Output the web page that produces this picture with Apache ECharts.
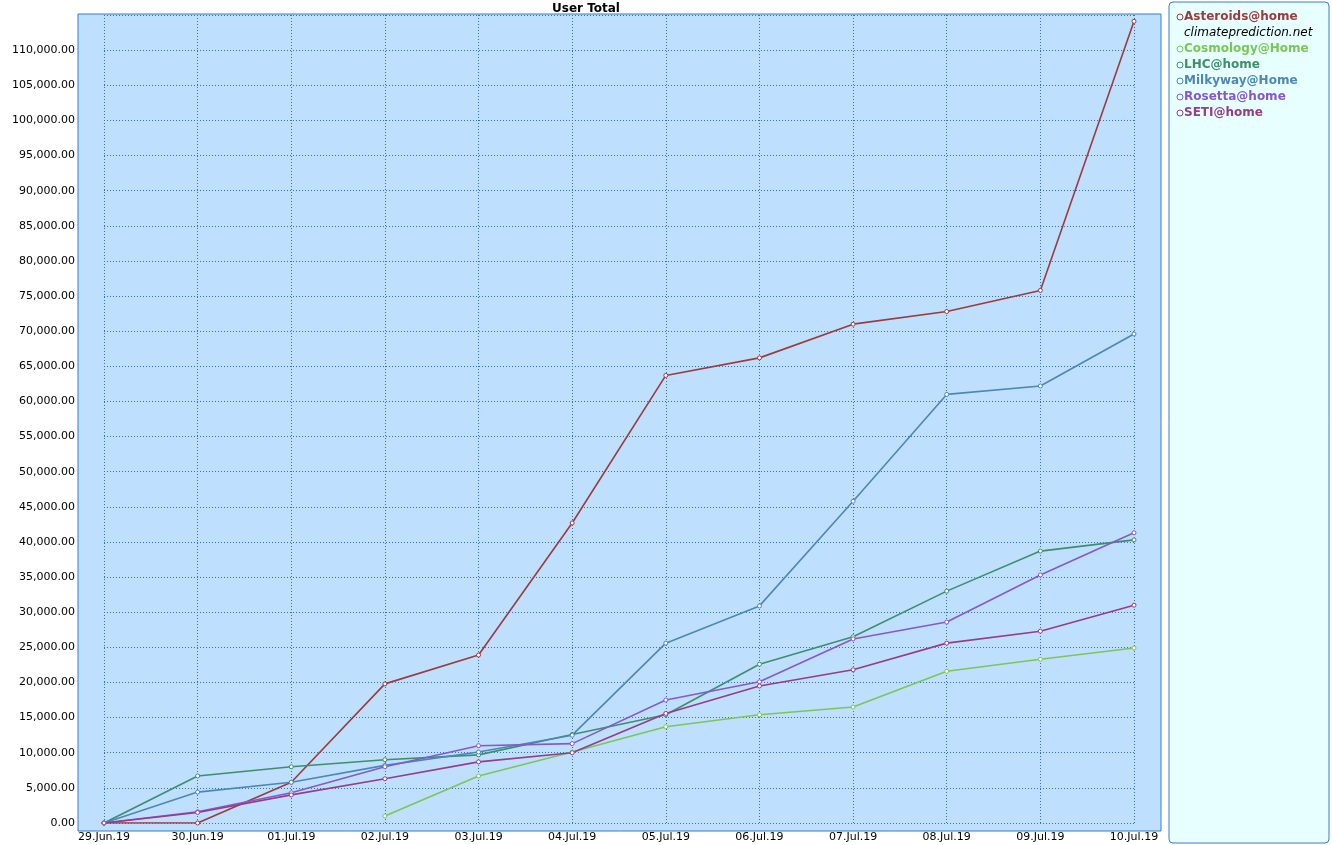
<!DOCTYPE html><html><head><meta charset="utf-8"><script src="https://cdn.jsdelivr.net/npm/echarts@6/dist/echarts.min.js"></script>
<style>html,body{margin:0;padding:0;background:#fff}#c{width:1332px;height:845px}</style></head><body><div id="c"></div><script>
const categories=['29.Jun.19','30.Jun.19','01.Jul.19','02.Jul.19','03.Jul.19','04.Jul.19','05.Jul.19','06.Jul.19','07.Jul.19','08.Jul.19','09.Jul.19','10.Jul.19'];
const asteroids=[0,0,5800,19800,23900,42700,63700,66200,71000,72800,75800,114100];
const climate=[];
const cosmology=[null,null,null,1000,6700,10100,13700,15400,16500,21600,23300,24900];
const lhc=[0,6700,8000,9000,9700,12600,15400,22600,26500,33000,38700,40300];
const milkyway=[0,4400,5800,8200,10100,12500,25600,30900,45800,61000,62200,69600];
const rosetta=[0,1600,4300,8000,11000,11300,17500,20100,26200,28600,35300,41300];
const seti=[0,1500,4000,6300,8700,10000,15600,19500,21800,25600,27300,31000];
const names=['Asteroids@home','climateprediction.net','Cosmology@Home','LHC@home','Milkyway@Home','Rosetta@home','SETI@home'];
const colors=['#9b3b3b','#000000','#7cc754','#3d8f68','#4d87b6','#8658cf','#973c87'];
const datas=[asteroids,climate,cosmology,lhc,milkyway,rosetta,seti];
const chart=echarts.init(document.getElementById('c'));
chart.setOption({
 animation:false,
 title:{text:'User Total',left:581,textAlign:'center',top:-2,textStyle:{fontSize:12,fontWeight:'bold',color:'#000',fontFamily:'DejaVu Sans'}},
 graphic:[
  {type:'rect',z:-10,shape:{x:78,y:14,width:1083,height:817},style:{fill:'#bfdfff',stroke:'#3a7cc4',lineWidth:1}},
  {type:'rect',z:-10,shape:{x:1169,y:2,width:160,height:841,r:4},style:{fill:'#e8ffff',stroke:'#3a7cc4',lineWidth:1}}
 ],
 legend:{orient:'vertical',left:1171,top:6,itemGap:4,itemWidth:6,itemHeight:6,icon:'circle',
  data:names.map((n,i)=>({name:n,textStyle:{color:colors[i],fontWeight:i===1?'normal':'bold',fontStyle:i===1?'italic':'normal'},itemStyle:i===1?{opacity:0}:{color:'transparent',borderColor:colors[i],borderWidth:1}})),
  textStyle:{fontSize:12,fontFamily:'DejaVu Sans',padding:[0,0,0,-4]}},
 grid:{left:104,right:198,top:15,bottom:22},
 xAxis:{type:'category',boundaryGap:false,data:categories,
  axisLine:{show:false},axisTick:{show:false},
  axisLabel:{color:'#000',fontSize:11,fontFamily:'DejaVu Sans',margin:9,interval:0},
  splitLine:{show:true,lineStyle:{color:'#3a6fb8',type:[1,2],width:1}}},
 yAxis:{type:'value',min:0,max:115000,interval:5000,
  axisLine:{show:false},axisTick:{show:false},
  axisLabel:{color:'#000',fontSize:11,fontFamily:'DejaVu Sans',margin:29,showMaxLabel:false,
   formatter:v=>v.toLocaleString('en-US',{minimumFractionDigits:2,maximumFractionDigits:2})},
  splitLine:{lineStyle:{color:'#3a6fb8',type:[1,2],width:1}}},
 series:names.map((n,i)=>({name:n,type:'line',data:datas[i],color:colors[i],
  symbol:'circle',symbolSize:4,showSymbol:true,
  itemStyle:{color:'#fff',borderColor:colors[i],borderWidth:1},
  lineStyle:{color:colors[i],width:1.6},connectNulls:false}))
});
</script></body></html>
